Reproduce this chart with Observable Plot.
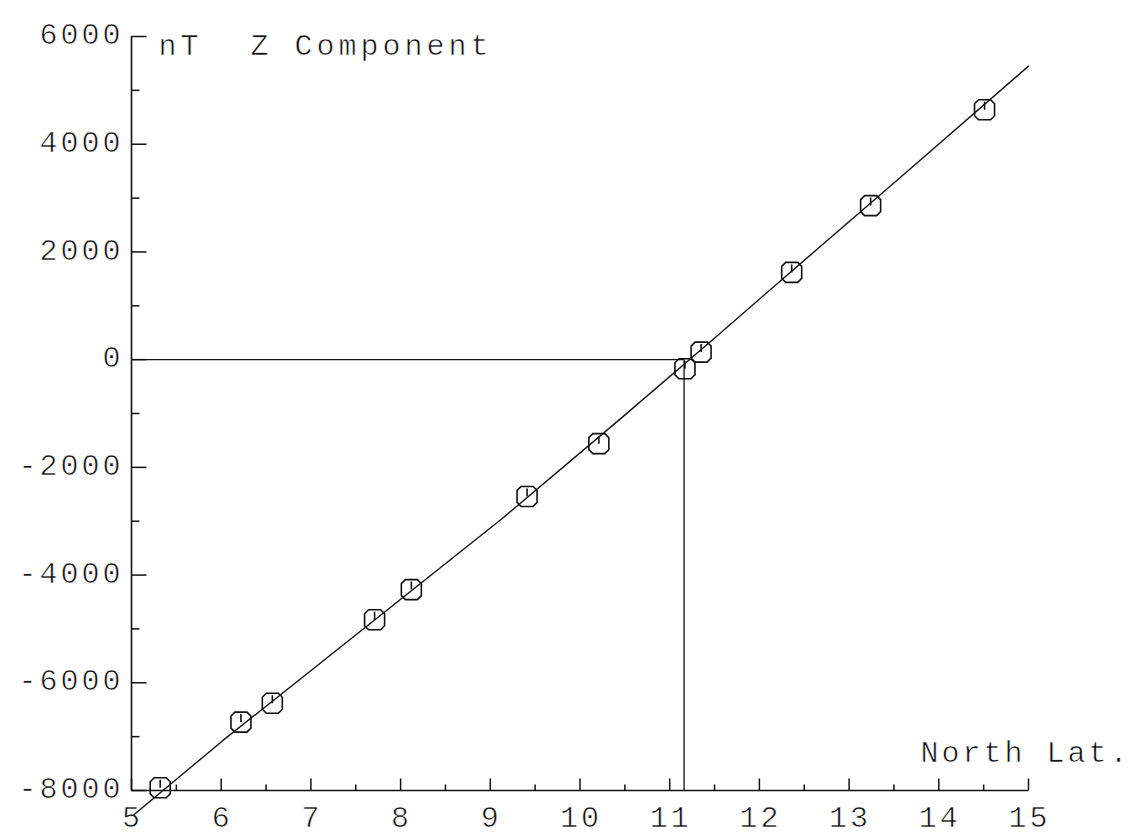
<!DOCTYPE html>
<html>
<head>
<meta charset="utf-8">
<script src="https://cdn.jsdelivr.net/npm/d3@7"></script>
<script src="https://cdn.jsdelivr.net/npm/@observablehq/plot@0.6"></script>
<style>
  html, body { margin: 0; padding: 0; background: #fff; }
  #chart svg { display: block; }
  #chart svg text { font-family: "Liberation Mono", "DejaVu Sans Mono", monospace; letter-spacing: 3px; }
  #chart svg .title text { letter-spacing: 4px; }
</style>
</head>
<body>
<div id="chart"></div>
<script>
// Observed stations: north latitude (deg) and vertical field component Z (nT)
const lat = [5.32, 6.22, 6.57, 7.71, 8.12, 9.41, 10.21, 11.17, 11.35, 12.36, 13.24, 14.51];
const z   = [-7950, -6730, -6380, -4830, -4270, -2540, -1560, -170, 140, 1620, 2860, 4640];

// Smoothed fit drawn through the stations
const fitLat = [5.02, 6.02, 8.59, 9.13, 10.45, 11.56, 12.24, 13.68, 15.0];
const fitZ   = [-8460, -7070, -3670, -2955, -1100, 485, 1470, 3540, 5450];

// Latitude where Z crosses zero
const zeroLat = [11.16];

// Axis ticks
const xMajor = [5, 6, 7, 8, 9, 10, 11, 12, 13, 14, 15];
const xMinor = [5.5, 6.5, 7.5, 8.5, 9.5, 10.5, 11.5, 12.5, 13.5, 14.5];
const yMajor = [-8000, -6000, -4000, -2000, 0, 2000, 4000, 6000];
const yMinor = [-7000, -5000, -3000, -1000, 1000, 3000, 5000];

const xLabels = xMajor.map(String);
const yLabels = yMajor.map(v => (v < 0 ? "-" : "") + Math.abs(v));

const stations = lat.map((d, i) => ({lat: d, z: z[i]}));
const fit = fitLat.map((d, i) => ({lat: d, z: fitZ[i]}));

const xMin = 5, xMax = 15, yMin = -8000, yMax = 6000;

// Short tick strokes drawn as custom symbols (pixel length, pointing inward)
const tickSym = (dx, dy) => ({draw(ctx) { ctx.moveTo(0, 0); ctx.lineTo(dx, dy); }});

// Plotter-style station marker: octagon with a short stroke from the centre upward
const stationSym = {
  draw(ctx) {
    const a = 10, c = 4;
    ctx.moveTo(-a, -a + c);
    ctx.lineTo(-a + c, -a);
    ctx.lineTo(a - c, -a);
    ctx.lineTo(a, -a + c);
    ctx.lineTo(a, a - c);
    ctx.lineTo(a - c, a);
    ctx.lineTo(-a + c, a);
    ctx.lineTo(-a, a - c);
    ctx.closePath();
    ctx.moveTo(0, 0);
    ctx.lineTo(0, -8);
  }
};

const ink = "#111";
// thin pen-like lettering: a white outline painted over the glyph fill
const pen = {fill: ink, stroke: "white", strokeWidth: 0.6, paintOrder: "normal"};

const chart = Plot.plot({
  width: 1134,
  height: 836,
  marginLeft: 131,
  marginRight: 106,
  marginTop: 36,
  marginBottom: 46,
  x: {domain: [xMin, xMax], axis: null},
  y: {domain: [yMin, yMax], axis: null},
  marks: [
    // axis lines
    Plot.ruleX([xMin], {y1: yMin, y2: yMax, stroke: ink, strokeWidth: 1.6}),
    Plot.ruleY([yMin], {x1: xMin, x2: xMax, stroke: ink, strokeWidth: 1.6}),
    // y ticks (inward, to the right)
    Plot.dot(yMajor, {x: xMin, y: d => d, symbol: tickSym(15, 0), r: 5, stroke: ink, strokeWidth: 1.5, fill: "none"}),
    Plot.dot(yMinor, {x: xMin, y: d => d, symbol: tickSym(8, 0), r: 5, stroke: ink, strokeWidth: 1.5, fill: "none"}),
    // x ticks (inward, upward)
    Plot.dot(xMajor, {x: d => d, y: yMin, symbol: tickSym(0, -12), r: 5, stroke: ink, strokeWidth: 1.5, fill: "none"}),
    Plot.dot(xMinor, {x: d => d, y: yMin, symbol: tickSym(0, -6), r: 5, stroke: ink, strokeWidth: 1.5, fill: "none"}),
    // tick labels
    Plot.text(yMajor, {x: xMin, y: d => d, text: (d, i) => yLabels[i], textAnchor: "end", dx: -8, dy: -2, fontSize: 30, ...pen}),
    Plot.text(xMajor, {x: d => d, y: yMin, text: (d, i) => xLabels[i], textAnchor: "middle", dx: 1, dy: 27, fontSize: 30, ...pen}),
    // axis titles
    Plot.text(["nT"], {x: xMin, y: yMax, text: d => d, textAnchor: "start", dx: 27, dy: 9, fontSize: 30, className: "title", ...pen}),
    Plot.text(["Z Component"], {x: xMin, y: yMax, text: d => d, textAnchor: "start", dx: 119, dy: 9, fontSize: 30, className: "title", ...pen}),
    Plot.text(["North Lat."], {x: xMax, y: yMin, text: d => d, textAnchor: "end", dx: 102, dy: -38, fontSize: 30, ...pen}),
    // zero-crossing guide lines
    Plot.ruleY([0], {x1: xMin, x2: zeroLat[0], stroke: ink, strokeWidth: 1.3}),
    Plot.ruleX(zeroLat, {y1: yMin, y2: 0, stroke: ink, strokeWidth: 1.3}),
    // fitted curve
    Plot.line(fit, {x: "lat", y: "z", stroke: ink, strokeWidth: 1.4}),
    // stations
    Plot.dot(stations, {x: "lat", y: "z", symbol: stationSym, r: 6, stroke: ink, strokeWidth: 1.6, fill: "none"})
  ]
});

document.getElementById("chart").append(chart);
</script>
</body>
</html>
